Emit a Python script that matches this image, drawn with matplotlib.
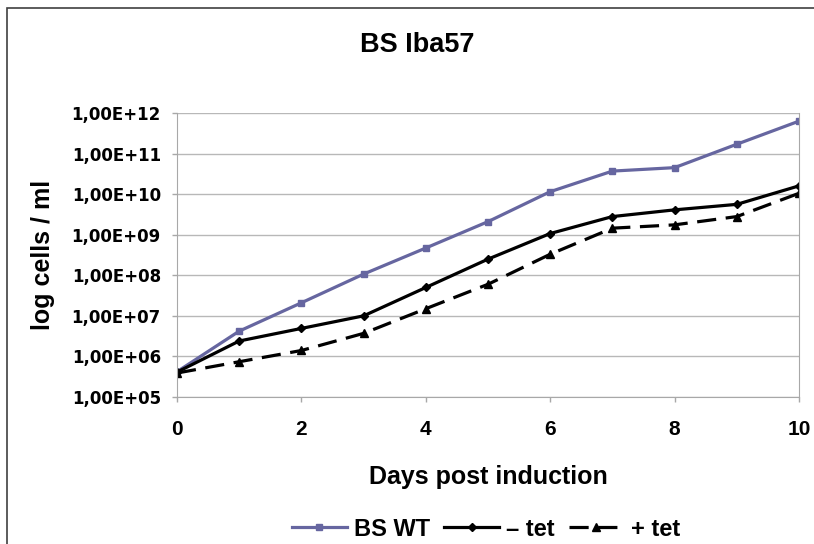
import numpy as np
import matplotlib
matplotlib.use("Agg")
import matplotlib.pyplot as plt
from matplotlib.patches import Rectangle
from matplotlib.ticker import FuncFormatter, FixedLocator

plt.rcParams["font.family"] = ["Liberation Sans", "DejaVu Sans"]

days = [0, 1, 2, 3, 4, 5, 6, 7, 8, 9, 10]
bs_wt = [4.2e5, 4.2e6, 2.1e7, 1.07e8, 4.7e8, 2.1e9, 1.15e10, 3.7e10, 4.5e10, 1.7e11, 6.3e11]
minus_tet = [4.1e5, 2.4e6, 4.9e6, 1.0e7, 5.0e7, 2.5e8, 1.07e9, 2.8e9, 4.1e9, 5.6e9, 1.6e10]
plus_tet = [3.9e5, 7.4e5, 1.4e6, 3.7e6, 1.5e7, 6.0e7, 3.3e8, 1.45e9, 1.75e9, 2.8e9, 1.05e10]

fig = plt.figure(figsize=(8.14, 5.44), dpi=100)
ax = fig.add_axes([177 / 814, 1 - 397 / 544, (799 - 177) / 814, (397 - 113) / 544])

# outer chart frame (right/bottom edges run off the image)
fig.patches.append(Rectangle((7 / 814, -0.05), 1.2, 1 - 8 / 544 + 0.05,
                             transform=fig.transFigure, fill=False,
                             edgecolor="#404040", linewidth=1.2))

ax.plot(days, bs_wt, "-s", color="#6666A0", linewidth=2.3, markersize=5,
        label="BS WT")
ax.plot(days, minus_tet, "-D", color="black", linewidth=2.3, markersize=4,
        label="\u2013 tet")
ax.plot(days, plus_tet, "--^", color="black", linewidth=2.3, markersize=6,
        dashes=(6, 3), label="+ tet")

ax.set_yscale("log")
ax.set_ylim(1e5, 1e12)
ax.set_xlim(0, 10)
ax.yaxis.set_major_locator(FixedLocator([10.0 ** e for e in range(5, 13)]))
ax.yaxis.set_minor_locator(FixedLocator([]))
ax.yaxis.set_major_formatter(FuncFormatter(lambda v, p: "1,00E+%02d" % round(np.log10(v))))
ax.set_xticks([0, 2, 4, 6, 8, 10])

ax.grid(True, axis="y", color="#b8b8b8", linewidth=1)
for s in ax.spines.values():
    s.set_color("#a8a8a8")
ax.spines["top"].set_visible(False)
ax.tick_params(axis="both", colors="#a8a8a8", length=3.6, width=1,
               labelcolor="black")
ax.tick_params(axis="y", pad=8)
ax.tick_params(axis="x", labelsize=15, pad=13)
for lbl in ax.get_yticklabels():
    lbl.set_fontweight("bold")
    lbl.set_family("DejaVu Sans")
    lbl.set_fontsize(12)
for lbl in ax.get_xticklabels():
    lbl.set_fontweight("bold")

ax.set_xlabel("Days post induction", fontsize=18, fontweight="bold")
ax.set_ylabel("log cells / ml", fontsize=18, fontweight="bold")
ax.xaxis.set_label_coords(0.5, (397 - 465) / 284)
ax.yaxis.set_label_coords((55 - 177) / 622, 0.5)
fig.text(417 / 814, 1 - 45 / 544, "BS Iba57", ha="center", va="center",
         fontsize=19.5, fontweight="bold")

fig.legend(loc="center", bbox_to_anchor=(486 / 814, 1 - 529 / 544), ncol=3,
           frameon=False, handlelength=2.33, columnspacing=0.6, handletextpad=0.3,
           prop={"weight": "bold", "size": 17})

fig.savefig("out.png", dpi=100)
